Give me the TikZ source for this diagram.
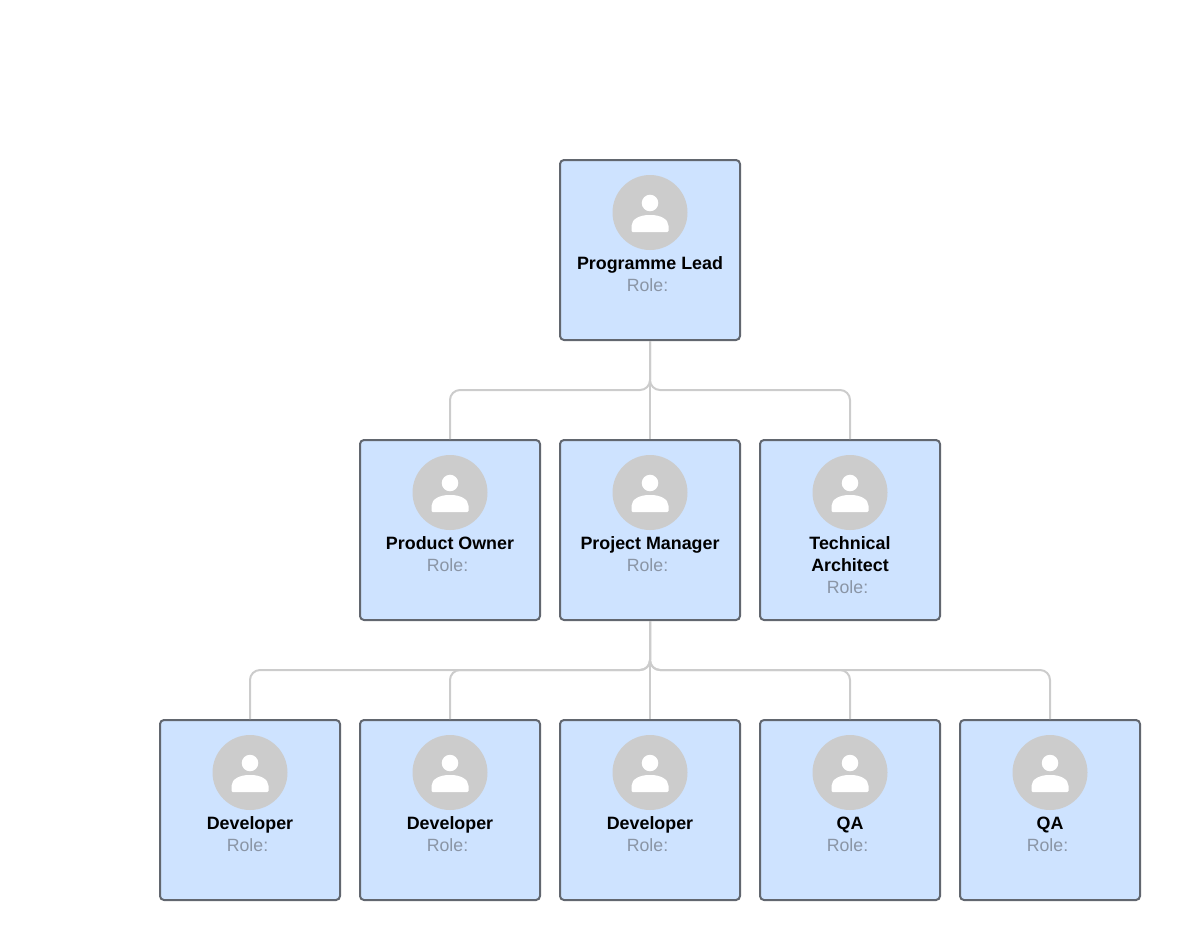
\documentclass[tikz,border=0pt]{standalone}
\usepackage{fontspec}
\setmainfont{Liberation Sans}
\definecolor{cardfill}{HTML}{CEE3FF}
\definecolor{cardline}{HTML}{62676F}
\definecolor{linkgrey}{HTML}{CCCCCC}
\definecolor{rolegrey}{HTML}{8A95A5}
\tikzset{
  px/.style={x=0.75pt,y=-0.75pt},
  card/.style={draw=cardline,fill=cardfill,line width=1.5pt,rounded corners=3pt,minimum width=135pt,minimum height=135pt,inner sep=0pt},
  link/.style={draw=linkgrey,line width=1.5pt,rounded corners=7.5pt},
  avatar/.style={fill=linkgrey,draw=none,circle,minimum size=56.25pt,inner sep=0pt},
  title/.style={align=center,font=\fontsize{13.4pt}{16.5pt}\selectfont\bfseries,text=black,inner sep=0pt,anchor=base},
  rolelabel/.style={font=\fontsize{13.3pt}{16pt}\selectfont,text=rolegrey,inner sep=0pt,anchor=base},
}
% id, centre x, top y, title, title baseline offset, role baseline offset
\newcommand{\orgcard}[6]{%
  \node[card] (#1) at (#2,#3+90) {};
  \node[avatar] (#1av) at (#2,#3+52.5) {};
  \fill[white] (#2,#3+43) circle[radius=6.2pt];
  \fill[white] (#2-18.5,#3+72) [rounded corners=0.8pt] -- (#2-18.5,#3+67)
     .. controls (#2-18.5,#3+59) and (#2-10,#3+55) .. (#2,#3+55)
     .. controls (#2+10,#3+55) and (#2+18.5,#3+59) .. (#2+18.5,#3+67)
     -- (#2+18.5,#3+72) -- cycle;
  \node[title] (#1name) at (#2,#3+#5) {#4};
  \node[rolelabel] (#1role) at (#2-2.5,#3+#6) {Role:};
}
\begin{document}
\begin{tikzpicture}[px]
\useasboundingbox (0,0) rectangle (1180,940);
\orgcard{pl}{650}{160}{Programme Lead}{109}{131.5}
\orgcard{po}{450}{440}{Product Owner}{109}{131.5}
\orgcard{pm}{650}{440}{Project Manager}{109}{131.5}
\orgcard{ta}{850}{440}{Technical\\Architect}{131}{153.5}
\orgcard{da}{250}{720}{Developer}{109}{131.5}
\orgcard{db}{450}{720}{Developer}{109}{131.5}
\orgcard{dc}{650}{720}{Developer}{109}{131.5}
\orgcard{qa}{850}{720}{QA}{109}{131.5}
\orgcard{qb}{1050}{720}{QA}{109}{131.5}
\coordinate (busa) at (650,390);
\coordinate (busb) at (650,670);
\draw[link] (pl.south) -- (busa) -| (po.north);
\draw[link] (pl.south) -- (pm.north);
\draw[link] (pl.south) -- (busa) -| (ta.north);
\draw[link] (pm.south) -- (busb) -| (da.north);
\draw[link] (pm.south) -- (busb) -| (db.north);
\draw[link] (pm.south) -- (dc.north);
\draw[link] (pm.south) -- (busb) -| (qa.north);
\draw[link] (pm.south) -- (busb) -| (qb.north);
\end{tikzpicture}
\end{document}
